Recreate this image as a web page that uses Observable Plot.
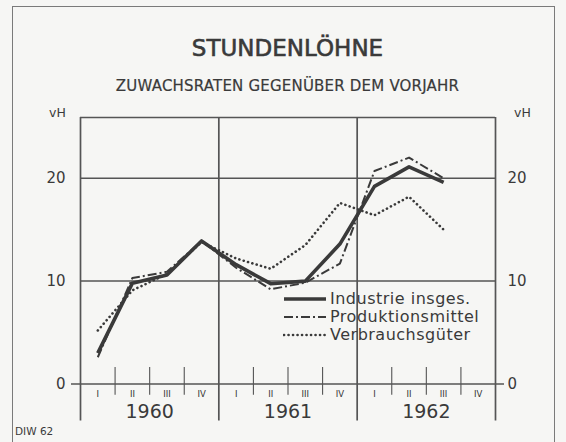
<!DOCTYPE html>
<html><head><meta charset="utf-8">
<script src="https://cdn.jsdelivr.net/npm/d3@7"></script>
<script src="https://cdn.jsdelivr.net/npm/@observablehq/plot@0.6"></script>
<style>
html,body{margin:0;padding:0;background:#fff;}
#wrap{position:relative;width:566px;height:442px;background:#f6f6f4;overflow:hidden;font-family:"DejaVu Sans",sans-serif;color:#3a3a3a;}
#border{position:absolute;left:12px;top:6px;width:543px;height:440px;border:1.5px solid #7a7a7a;border-bottom:none;box-sizing:border-box;}
#title{position:absolute;left:80px;width:415px;top:37px;text-align:center;font-size:23px;line-height:23px;white-space:nowrap;-webkit-text-stroke:0.6px #3a3a3a;}
#subtitle{position:absolute;left:80px;width:415px;top:79px;text-align:center;font-size:15px;line-height:15px;letter-spacing:0.2px;white-space:nowrap;-webkit-text-stroke:0.2px #3a3a3a;}
#chart{position:absolute;left:0;top:0;}
#legend{position:absolute;left:283px;top:290px;font-size:16px;line-height:18px;letter-spacing:0.5px;}
.row{display:flex;align-items:center;height:18px;white-space:nowrap;}
.row svg{margin-right:3px;}
#source{position:absolute;left:15px;top:425px;font-size:10.5px;}
</style>
</head><body>
<div id="wrap">
  <div id="border"></div>
  <div id="chart"></div>
  <div id="title"></div>
  <div id="subtitle"></div>
  <div id="legend"></div>
  <div id="source"></div>
</div>
<script>
// ---- data ----
const titleText = "STUNDENLÖHNE";
const subtitleText = "ZUWACHSRATEN GEGENÜBER DEM VORJAHR";
const sourceText = "DIW 62";
const unitLabel = "vH";
const years = ["1960", "1961", "1962"];
const quarterNames = ["I", "II", "III", "IV"];
const yTicks = [0, 10, 20];
const seriesNames = ["Industrie insges.", "Produktionsmittel", "Verbrauchsgüter"];
// quarterly values 1960 I ... 1962 III
const industrie = [3.0, 9.8, 10.6, 13.9, 11.6, 9.75, 10.0, 13.6, 19.2, 21.1, 19.6];
const produktion = [2.6, 10.3, 10.9, 13.9, 11.3, 9.2, 9.85, 11.7, 20.7, 22.0, 20.0];
const verbrauch = [5.2, 9.1, 10.7, 13.8, 12.2, 11.2, 13.5, 17.6, 16.4, 18.2, 15.0];

// ---- styling ----
const ink = "#3a3a3a";
const frameInk = "#555";
const yMax = 25.9;
const styles = [
  {strokeWidth: 3.6, dash: null, cap: "butt"},
  {strokeWidth: 2, dash: "9,3,2,3", cap: "butt"},
  {strokeWidth: 2.6, dash: "0.1,4.4", cap: "round"}
];

const nQ = years.length * quarterNames.length;
const toRows = arr => arr.map((v, i) => ({q: i + 0.5, v}));
const seriesData = [industrie, produktion, verbrauch].map(toRows);
const yearBounds = d3.range(0, nQ + 1, quarterNames.length);
const quarterBounds = d3.range(1, nQ).filter(d => d % quarterNames.length !== 0);
const quarterLabels = d3.range(nQ).map(i => ({q: i + 0.5, t: quarterNames[i % quarterNames.length]}));
const yearLabels = years.map((y, i) => ({q: i * quarterNames.length + quarterNames.length / 2, t: y}));

const plot = Plot.plot({
  width: 566, height: 442,
  marginLeft: 80, marginRight: 71, marginTop: 117, marginBottom: 58.5,
  x: {domain: [0, nQ], axis: null},
  y: {domain: [0, yMax], axis: null},
  style: {background: "transparent", fontFamily: "DejaVu Sans", color: ink, overflow: "visible"},
  marks: [
    Plot.ruleY([yMax], {stroke: frameInk, strokeWidth: 1.6}),
    Plot.ruleY(yTicks.filter(d => d > 0), {stroke: frameInk, strokeWidth: 1.5}),
    Plot.ruleY([0], {stroke: frameInk, strokeWidth: 1.6, insetLeft: -9, insetRight: -9}),
    Plot.ruleX(yearBounds, {stroke: frameInk, strokeWidth: 1.7, insetBottom: -37}),
    Plot.ruleX(quarterBounds, {y1: -1.1, y2: 1.6, stroke: frameInk, strokeWidth: 1.1}),
    Plot.text(yTicks, {x: 0, y: d => d, text: d => String(d), dx: -15, textAnchor: "end", fontSize: 15, fill: ink}),
    Plot.text(yTicks, {x: nQ, y: d => d, text: d => String(d), dx: 12, textAnchor: "start", fontSize: 15, fill: ink}),
    Plot.text([unitLabel], {x: 0, y: yMax, text: d => d, dx: -23, dy: -5, fontSize: 12.5, fill: ink}),
    Plot.text([unitLabel], {x: nQ, y: yMax, text: d => d, dx: 27, dy: -5, fontSize: 12.5, fill: ink}),
    Plot.text(quarterLabels, {x: "q", y: 0, text: "t", dy: 10.5, fontSize: 8.5, fill: "#333"}),
    Plot.text(yearLabels, {x: "q", y: 0, text: "t", dy: 27.5, fontSize: 19, fill: ink}),
    ...seriesData.map((data, i) => Plot.line(data, {
      x: "q", y: "v", stroke: ink, strokeWidth: styles[i].strokeWidth,
      strokeDasharray: styles[i].dash, strokeLinecap: styles[i].cap, strokeLinejoin: "round"
    }))
  ]
});
document.getElementById("chart").appendChild(plot);
document.getElementById("title").textContent = titleText;
document.getElementById("subtitle").textContent = subtitleText;
document.getElementById("source").textContent = sourceText;

const legend = document.getElementById("legend");
seriesNames.forEach((name, i) => {
  const row = document.createElement("div");
  row.className = "row";
  const s = styles[i];
  row.innerHTML = `<svg width="44" height="10"><line x1="1" y1="5" x2="43" y2="5" stroke="${ink}" stroke-width="${s.strokeWidth}" ${s.dash ? `stroke-dasharray="${s.dash}"` : ""} stroke-linecap="${s.cap}"/></svg><span></span>`;
  row.querySelector("span").textContent = name;
  legend.appendChild(row);
});
</script>
</body></html>
